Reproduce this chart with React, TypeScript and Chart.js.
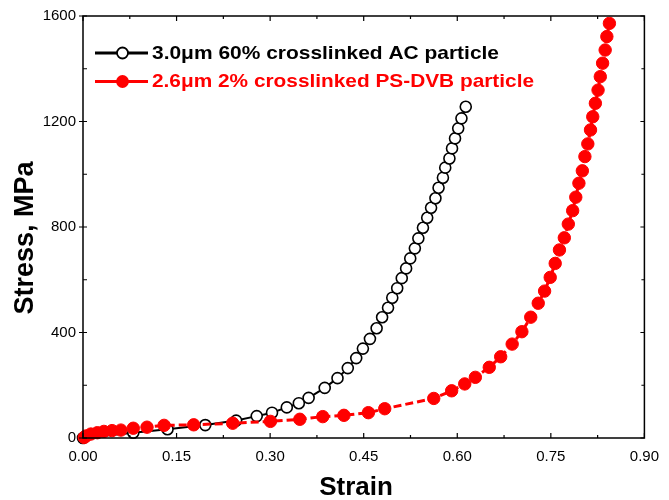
import React, { useEffect, useRef } from "react";
import { Chart, registerables } from "chart.js";

Chart.register(...registerables);

// 3.0 µm, 60% crosslinked AC particle
const acStrain = [
  0, 0.0806, 0.1355, 0.196, 0.2455, 0.2785, 0.303, 0.3267, 0.346, 0.3617,
  0.3875, 0.408, 0.4245, 0.438, 0.4487, 0.46, 0.4707, 0.4795, 0.489, 0.4958, 0.5037, 0.511,
  0.518, 0.5246, 0.532, 0.5376, 0.545, 0.5518, 0.558, 0.565, 0.57, 0.577, 0.5807, 0.5874,
  0.5916, 0.5964, 0.6015, 0.6067, 0.6136,
];
const acStress = [
  0, 20, 33, 49, 66, 83, 96, 116, 132, 152,
  190, 227, 265, 303, 339, 376, 416, 458, 494, 532, 568, 606,
  643, 681, 719, 757, 797, 835, 873, 909, 949, 987, 1025, 1060,
  1098, 1136, 1174, 1212, 1256,
];

// 2.6 µm, 2% crosslinked PS-DVB particle
const psStrain = [
  0.002, 0.0047, 0.0126, 0.023, 0.0335, 0.0466, 0.0608, 0.0806, 0.1026, 0.13, 0.1775, 0.24,
  0.3005, 0.3476, 0.3843, 0.4183, 0.4575, 0.4837, 0.5623, 0.591, 0.612, 0.629, 0.6513,
  0.6696, 0.688, 0.7036, 0.7178, 0.7298, 0.74, 0.749, 0.757, 0.7638, 0.7716, 0.778, 0.785,
  0.79, 0.795, 0.8005, 0.8046, 0.8093, 0.8136, 0.8172, 0.8214, 0.8257, 0.8293, 0.833,
  0.8371, 0.8398, 0.8439,
];
const psStress = [
  2, 7.6, 15, 20, 25, 28, 30, 37, 41, 48, 50, 56,
  63, 71, 81, 86, 96, 111, 150, 179, 205, 230, 268,
  308, 356, 403, 458, 511, 557, 609, 662, 713, 759, 811, 862,
  913, 966, 1013, 1067, 1115, 1168, 1218, 1269, 1319, 1370, 1421,
  1471, 1522, 1572,
];

const seriesLabels = [
  "3.0\u03bcm 60% crosslinked AC particle",
  "2.6\u03bcm 2% crosslinked PS-DVB particle",
];
const xTitle = "Strain";
const yTitle = "Stress, MPa";

const FONT = "'Liberation Sans', Arial, Helvetica, sans-serif";

const framePlugin = {
  id: "frameAndLabels",
  afterDraw(chart: any) {
    const { ctx, chartArea, scales } = chart;
    const { left, right, top, bottom } = chartArea;
    const xs = scales.x;
    const ys = scales.y;
    ctx.save();

    // frame
    ctx.strokeStyle = "#000";
    ctx.lineWidth = 1.5;
    ctx.strokeRect(left, top, right - left, bottom - top);

    // tick marks
    ctx.lineWidth = 1.2;
    ctx.beginPath();
    for (let i = 0; i <= 12; i++) {
      const v = i * 0.075;
      const px = xs.getPixelForValue(v);
      const major = i % 2 === 0;
      const len = major ? 5 : 3;
      ctx.moveTo(px, bottom);
      ctx.lineTo(px, bottom - len);
      ctx.moveTo(px, top);
      ctx.lineTo(px, top + len);
    }
    for (let i = 0; i <= 8; i++) {
      const v = i * 200;
      const py = ys.getPixelForValue(v);
      const major = i % 2 === 0;
      if (major) {
        ctx.moveTo(left - 4, py);
        ctx.lineTo(left + 4, py);
        ctx.moveTo(right, py);
        ctx.lineTo(right - 4, py);
      } else {
        ctx.moveTo(left, py);
        ctx.lineTo(left + 4, py);
        ctx.moveTo(right, py);
        ctx.lineTo(right - 3, py);
      }
    }
    ctx.stroke();

    // axis titles
    ctx.fillStyle = "#000";
    ctx.font = `bold 26px ${FONT}`;
    ctx.textAlign = "center";
    ctx.textBaseline = "alphabetic";
    ctx.fillText(xTitle, 356, 495);

    ctx.save();
    ctx.translate(33, 238);
    ctx.rotate(-Math.PI / 2);
    ctx.font = `bold 27px ${FONT}`;
    ctx.fillText(yTitle, 0, 0);
    ctx.restore();

    // legend
    const rows = [
      { y: 53, text: seriesLabels[0], color: "#000", fill: "#fff", width: 347, base: 59.3 },
      { y: 81.5, text: seriesLabels[1], color: "#ff0000", fill: "#ff0000", width: 382, base: 87 },
    ];
    rows.forEach((r) => {
      ctx.strokeStyle = r.color;
      ctx.lineWidth = 3;
      ctx.beginPath();
      ctx.moveTo(95, r.y);
      ctx.lineTo(148, r.y);
      ctx.stroke();
      ctx.beginPath();
      ctx.arc(122.5, r.y, 5.5, 0, Math.PI * 2);
      ctx.fillStyle = r.fill;
      ctx.fill();
      ctx.lineWidth = 1.8;
      ctx.stroke();

      ctx.font = `bold 19px ${FONT}`;
      ctx.textAlign = "left";
      const w = ctx.measureText(r.text).width;
      ctx.save();
      ctx.translate(152, r.base);
      ctx.scale(r.width / w, 1);
      ctx.fillStyle = r.color;
      ctx.fillText(r.text, 0, 0);
      ctx.restore();
    });

    ctx.restore();
  },
};

export default function App() {
  const canvasRef = useRef<HTMLCanvasElement | null>(null);

  useEffect(() => {
    const canvas = canvasRef.current;
    if (!canvas) return;

    const acPoints = acStrain.map((x, i) => ({ x, y: acStress[i] }));
    const psPoints = psStrain.map((x, i) => ({ x, y: psStress[i] }));

    const chart = new Chart(canvas, {
      type: "line",
      data: {
        datasets: [
          {
            label: seriesLabels[1],
            data: psPoints,
            order: 0,
            borderColor: "#ff0000",
            borderWidth: 3,
            borderDash: [8, 4],
            pointRadius: 6.2,
            pointBackgroundColor: "#ff0000",
            pointBorderColor: "#ff0000",
            pointBorderWidth: 1,
            tension: 0,
            clip: false,
          },
          {
            label: seriesLabels[0],
            data: acPoints,
            order: 1,
            borderColor: "#000",
            borderWidth: 2,
            pointRadius: 5.5,
            pointBackgroundColor: "#fff",
            pointBorderColor: "#000",
            pointBorderWidth: 1.6,
            tension: 0,
            clip: false,
          },
        ],
      },
      options: {
        animation: false,
        responsive: true,
        maintainAspectRatio: false,
        layout: { padding: { top: 15, right: 15, left: 0, bottom: 0 } },
        plugins: {
          legend: { display: false },
          tooltip: { enabled: false },
        },
        scales: {
          x: {
            type: "linear",
            min: 0,
            max: 0.9,
            grid: { display: false, drawTicks: false },
            border: { display: false },
            ticks: {
              stepSize: 0.15,
              padding: 10,
              color: "#000",
              font: { family: FONT, size: 15 },
              maxRotation: 0,
              callback: (v: any) => Number(v).toFixed(2),
            },
            afterFit: (s: any) => {
              s.height = 62;
            },
          },
          y: {
            type: "linear",
            min: 0,
            max: 1600,
            grid: { display: false, drawTicks: false },
            border: { display: false },
            ticks: {
              stepSize: 400,
              padding: 7,
              color: "#000",
              font: { family: FONT, size: 15 },
              callback: (v: any) => String(Math.round(Number(v))),
            },
            afterFit: (s: any) => {
              s.width = 83;
            },
          },
        },
      },
      plugins: [framePlugin],
    });

    return () => chart.destroy();
  }, []);

  return (
    <div style={{ position: "fixed", left: 0, top: 0, width: 669, height: 500, background: "#fff" }}>
      <canvas ref={canvasRef} />
    </div>
  );
}
